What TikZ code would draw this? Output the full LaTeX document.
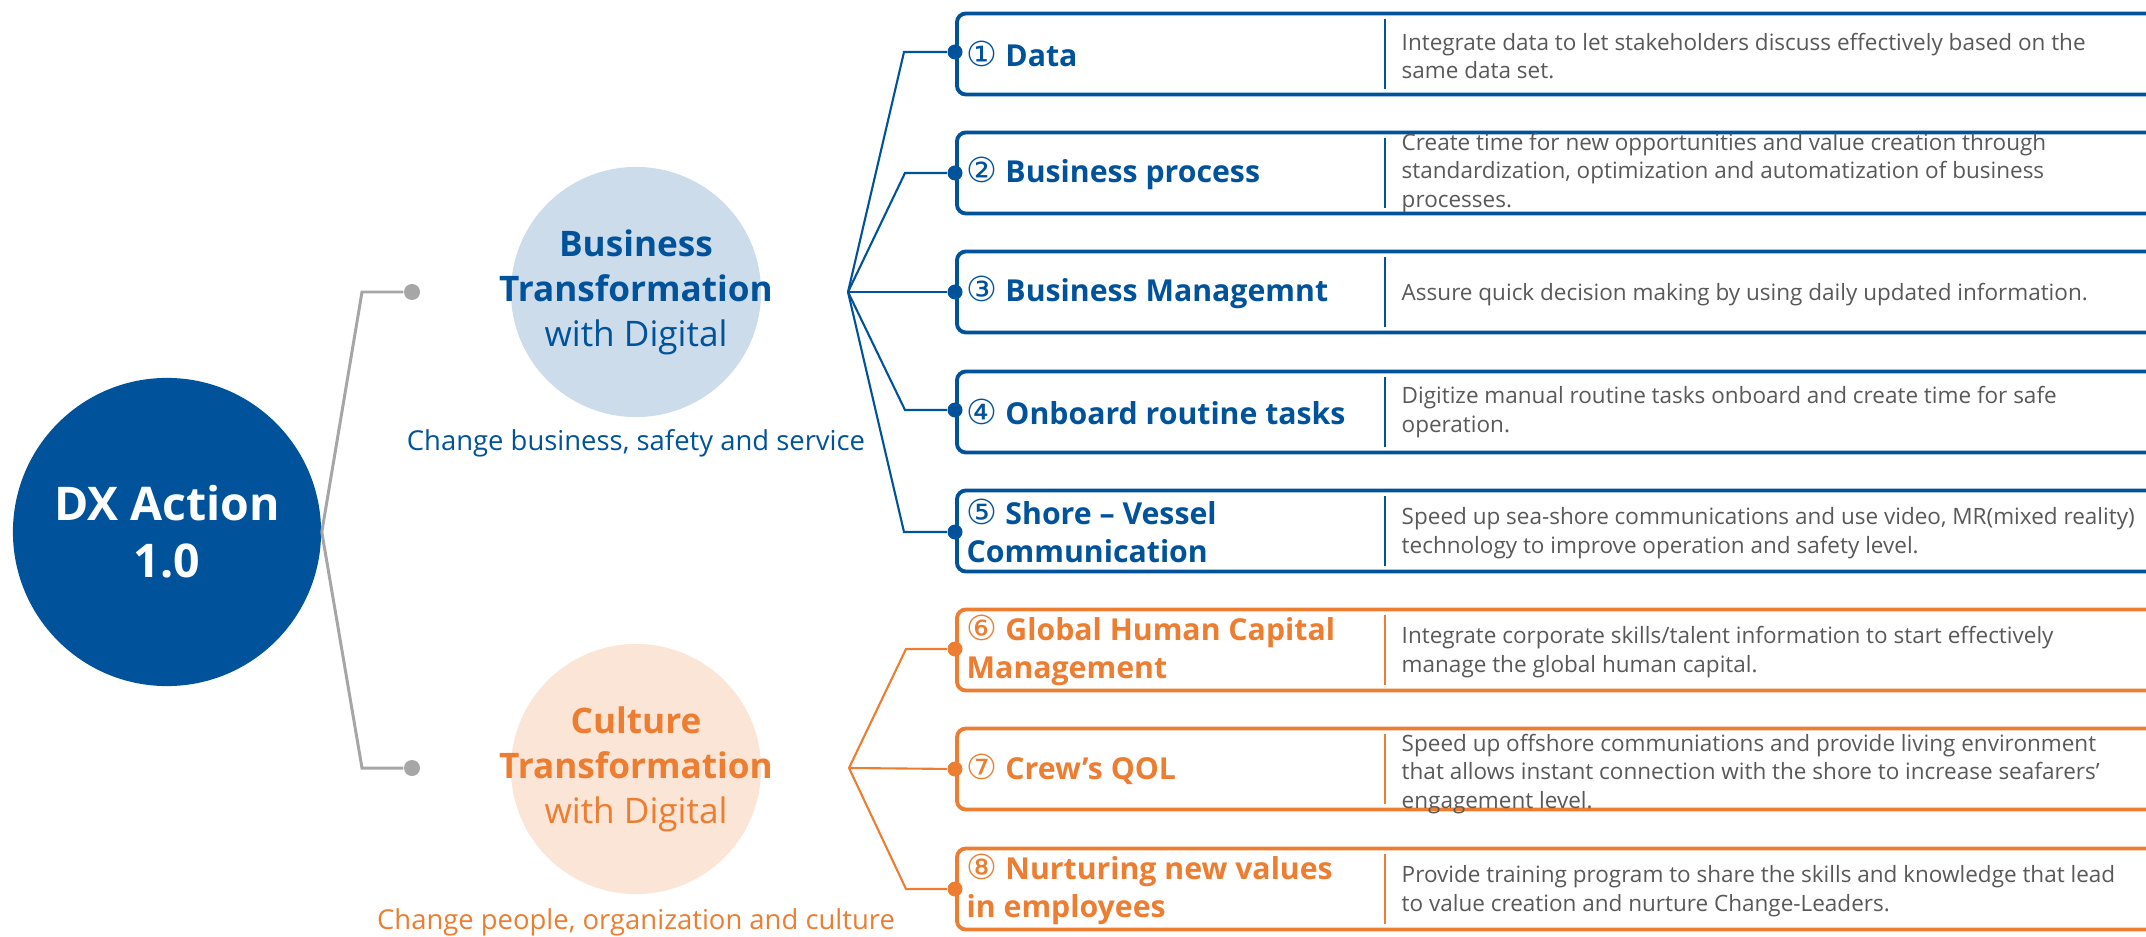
\documentclass[tikz,border=0pt]{standalone}
\usepackage{fontspec}
\setmainfont{Open Sans}
\newfontfamily\circfont{DejaVu Sans}
\usetikzlibrary{calc}

\definecolor{dxblue}{HTML}{00539B}
\definecolor{lightblue}{HTML}{CCDCEB}
\definecolor{dxorange}{HTML}{ED7D31}
\definecolor{lightorange}{HTML}{FBE5D6}
\definecolor{linegray}{HTML}{A6A6A6}
\definecolor{descgray}{HTML}{595959}

% circled item numbers
\newcommand{\cnum}[1]{{\circfont\mdseries\fontsize{9.8}{10}\selectfont #1}}

\begin{document}
\begin{tikzpicture}[
    x=0.01cm, y=-0.01cm,
    bigcircle/.style={circle, fill=dxblue, text=white, minimum size=3.08cm, inner sep=0pt, align=center, font=\bfseries\fontsize{13.2}{16.2}\selectfont},
    subcircle/.style={circle, minimum size=2.5cm, inner sep=0pt},
    circtext/.style={inner sep=0pt, align=center, font=\fontsize{10}{12.8}\selectfont},
    caption/.style={inner sep=0pt, font=\fontsize{7.8}{9}\selectfont},
    gline/.style={draw=linegray, line width=0.85pt},
    bline/.style={draw=dxblue, line width=0.6pt},
    oline/.style={draw=dxorange, line width=0.6pt},
    gdot/.style={circle, fill=linegray, inner sep=0pt, minimum size=0.16cm},
    bdot/.style={circle, fill=dxblue, inner sep=0pt, minimum size=0.15cm},
    odot/.style={circle, fill=dxorange, inner sep=0pt, minimum size=0.15cm},
    itembox/.style={rectangle, draw, fill=white, rounded corners=0.09cm, line width=1.1pt, minimum width=12.6cm, minimum height=0.81cm, anchor=west},
    title/.style={anchor=west, inner sep=0pt, align=left, font=\bfseries\fontsize{8.6}{10.8}\selectfont},
    desc/.style={anchor=west, inner sep=0pt, align=left, text=descgray, font=\fontsize{6.4}{8.2}\selectfont}
]
\useasboundingbox (0,0) rectangle (2146,937);
\clip (0,0) rectangle (2146,937);

% DX Action
\node[bigcircle] (dx) at (167,532) {DX Action\\1.0};

% Transformation circles
\node[subcircle, fill=lightblue] (biz) at (636,292) {};
\node[circtext, text=dxblue] (biztext) at (biz) {\textbf{Business}\\\textbf{Transformation}\\with Digital};
\node[caption, text=dxblue] (bizcap) at (636,443) {Change business, safety and service};
\node[subcircle, fill=lightorange] (cul) at (636,769) {};
\node[circtext, text=dxorange] (cultext) at (cul) {\textbf{Culture}\\\textbf{Transformation}\\with Digital};
\node[caption, text=dxorange] (culcap) at (636,922) {Change people, organization and culture};

% Gray branches
\node[gdot] (gd1) at (412,292) {};
\node[gdot] (gd2) at (412,768) {};
\draw[gline] (dx.east) -- (362,292) -- (gd1);
\draw[gline] (dx.east) -- (362,768) -- (gd2);

% Action boxes
\node[itembox, draw=dxblue] (box1) at (955,54) {};
\node[itembox, draw=dxblue] (box2) at (955,173) {};
\node[itembox, draw=dxblue] (box3) at (955,292) {};
\node[itembox, draw=dxblue] (box4) at (955,412) {};
\node[itembox, draw=dxblue] (box5) at (955,531) {};
\node[itembox, draw=dxorange] (box6) at (955,650) {};
\node[itembox, draw=dxorange] (box7) at (955,769) {};
\node[itembox, draw=dxorange] (box8) at (955,889) {};

\foreach \i in {1,...,5}
    \draw[dxblue, line width=0.5pt] ($(box\i.north west)+(430,7)$) -- ($(box\i.south west)+(430,-7)$);
\foreach \i in {6,7,8}
    \draw[dxorange, line width=0.5pt] ($(box\i.north west)+(430,7)$) -- ($(box\i.south west)+(430,-7)$);

% Titles
\node[title, text=dxblue] (t1) at (966,54) {\cnum{①} Data};
\node[title, text=dxblue] (t2) at (966,173) {\cnum{②} Business process};
\node[title, text=dxblue] (t3) at (966,292) {\cnum{③} Business Managemnt};
\node[title, text=dxblue] (t4) at (966,412) {\cnum{④} Onboard routine tasks};
\node[title, text=dxblue] (t5) at (966,531) {\cnum{⑤} Shore – Vessel\\Communication};
\node[title, text=dxorange] (t6) at (966,650) {\cnum{⑥} Global Human Capital\\Management};
\node[title, text=dxorange] (t7) at (966,769) {\cnum{⑦} Crew’s QOL};
\node[title, text=dxorange] (t8) at (966,889) {\cnum{⑧} Nurturing new values\\in employees};

% Descriptions
\node[desc] (s1) at (1401,56) {Integrate data to let stakeholders discuss effectively based on the\\same data set.};
\node[desc] (s2) at (1401,173) {Create time for new opportunities and value creation through\\standardization, optimization and automatization of business\\processes.};
\node[desc] (s3) at (1401,295) {Assure quick decision making by using daily updated information.};
\node[desc] (s4) at (1401,412) {Digitize manual routine tasks onboard and create time for safe\\operation.};
\node[desc] (s5) at (1401,533) {Speed up sea-shore communications and use video, MR(mixed reality)\\technology to improve operation and safety level.};
\node[desc] (s6) at (1401,652) {Integrate corporate skills/talent information to start effectively\\manage the global human capital.};
\node[desc] (s7) at (1401,774) {Speed up offshore communiations and provide living environment\\that allows instant connection with the shore to increase seafarers’\\engagement level.};
\node[desc] (s8) at (1401,891) {Provide training program to share the skills and knowledge that lead\\to value creation and nurture Change-Leaders.};

% Blue fan
\coordinate (bhub) at (848,292);
\node[bdot] (d1) at (955,52) {};
\node[bdot] (d2) at (955,173) {};
\node[bdot] (d3) at (955,292) {};
\node[bdot] (d4) at (955,410) {};
\node[bdot] (d5) at (955,532) {};
\draw[bline] (bhub) -- (904,52) -- (d1);
\draw[bline] (bhub) -- (905,173) -- (d2);
\draw[bline] (bhub) -- (d3);
\draw[bline] (bhub) -- (905,410) -- (d4);
\draw[bline] (bhub) -- (904,532) -- (d5);

% Orange fan
\coordinate (ohub) at (849,768);
\node[odot] (d6) at (955,649) {};
\node[odot] (d7) at (955,769) {};
\node[odot] (d8) at (955,889) {};
\draw[oline] (ohub) -- (906,649) -- (d6);
\draw[oline] (ohub) -- (d7);
\draw[oline] (ohub) -- (906,889) -- (d8);
\end{tikzpicture}
\end{document}
